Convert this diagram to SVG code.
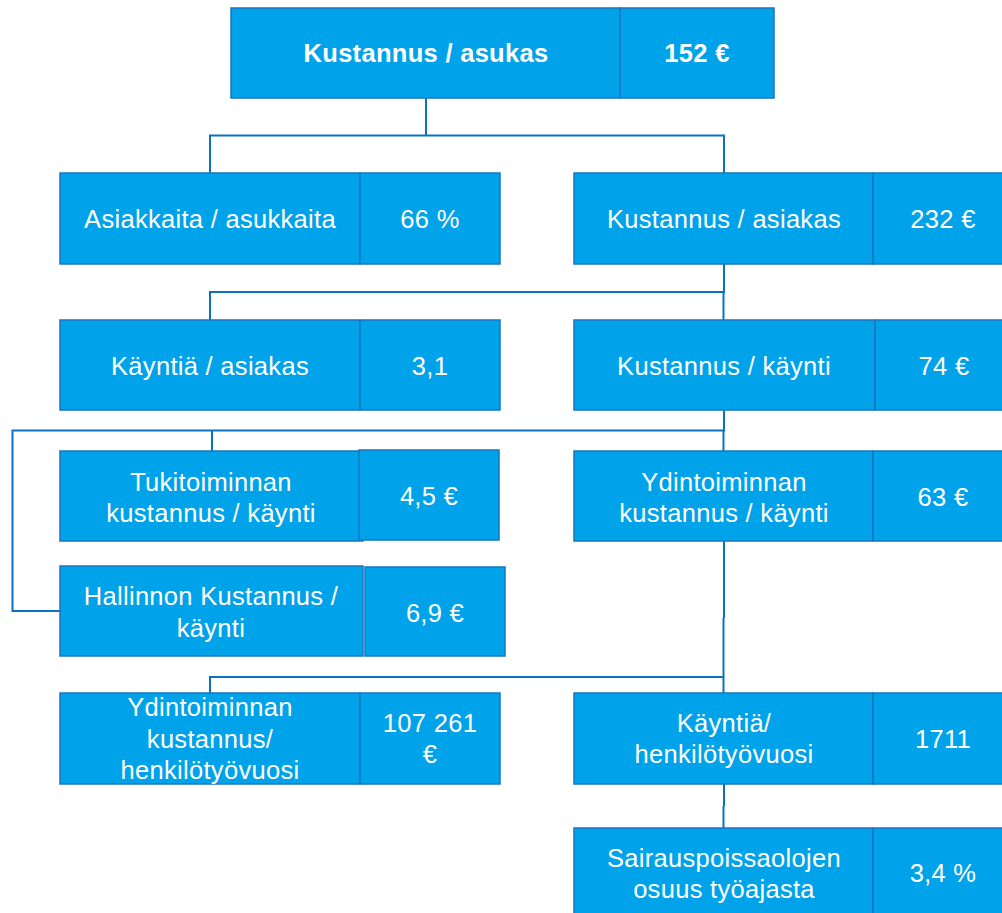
<svg xmlns="http://www.w3.org/2000/svg" width="1002" height="913" viewBox="0 0 1002 913">
<style>
.b{fill:#00A3E9;stroke:#1677C0;stroke-width:1.5}
.t{fill:#fff;font-family:"Liberation Sans",Arial,sans-serif;font-size:25.5px;letter-spacing:0.3px;text-anchor:middle}
.bold{font-weight:bold}
.c{fill:none;stroke:#0C72C0;stroke-width:2}
</style>
<rect width="1002" height="913" fill="#fff"/>
<g id="connectors">
<path class="c" d="M426 98V135.5M210 173V135.5H724V173"/>
<path class="c" d="M724 264V292H210V320M723.5 292V320"/>
<path class="c" d="M724 410V430.5H12.5V611H60M212 430.5V451M723.5 430.5V451"/>
<path class="c" d="M724 541V618M723.5 618V677H210V693M723.5 677V693"/>
<path class="c" d="M724 784V806M723.5 806V828"/>
</g>
<g id="n-kustannus-asukas">
<rect class="b" x="231" y="8" width="389" height="90"/>
<rect class="b" x="620" y="8" width="154" height="90"/>
<text class="t bold" x="426" y="62">Kustannus / asukas</text>
<text class="t bold" x="697" y="62">152 €</text>
</g>
<g id="n-asiakkaita">
<rect class="b" x="60" y="173" width="300" height="91"/>
<rect class="b" x="360" y="173" width="140" height="91"/>
<text class="t" x="210" y="228">Asiakkaita / asukkaita</text>
<text class="t" x="430" y="228">66 %</text>
</g>
<g id="n-kustannus-asiakas">
<rect class="b" x="574" y="173" width="299" height="91"/>
<rect class="b" x="873" y="173" width="142" height="91"/>
<text class="t" x="724" y="228">Kustannus / asiakas</text>
<text class="t" x="943" y="228">232 €</text>
</g>
<g id="n-kaynti-asiakas">
<rect class="b" x="60" y="320" width="300" height="90"/>
<rect class="b" x="360" y="320" width="140" height="90"/>
<text class="t" x="210" y="375">Käyntiä / asiakas</text>
<text class="t" x="430" y="375">3,1</text>
</g>
<g id="n-kustannus-kaynti">
<rect class="b" x="574" y="320" width="301" height="90"/>
<rect class="b" x="875" y="320" width="140" height="90"/>
<text class="t" x="724" y="375">Kustannus / käynti</text>
<text class="t" x="944" y="375">74 €</text>
</g>
<g id="n-tukitoiminnan">
<rect class="b" x="60" y="451" width="303" height="90"/>
<rect class="b" x="359" y="450" width="140" height="90"/>
<text class="t" x="211" y="491">Tukitoiminnan</text>
<text class="t" x="211" y="522">kustannus / käynti</text>
<text class="t" x="429" y="505">4,5 €</text>
</g>
<g id="n-ydintoiminnan-kaynti">
<rect class="b" x="574" y="451" width="299" height="90"/>
<rect class="b" x="873" y="451" width="142" height="90"/>
<text class="t" x="724" y="491">Ydintoiminnan</text>
<text class="t" x="724" y="522">kustannus / käynti</text>
<text class="t" x="943" y="506">63 €</text>
</g>
<g id="n-hallinnon">
<rect class="b" x="60" y="566" width="303" height="90"/>
<rect class="b" x="365" y="567" width="140" height="89"/>
<text class="t" x="211" y="605">Hallinnon Kustannus /</text>
<text class="t" x="211" y="637">käynti</text>
<text class="t" x="435" y="622">6,9 €</text>
</g>
<g id="n-ydintoiminnan-htv">
<rect class="b" x="60" y="693" width="300" height="91"/>
<rect class="b" x="360" y="693" width="140" height="91"/>
<text class="t" x="210" y="716">Ydintoiminnan</text>
<text class="t" x="210" y="748">kustannus/</text>
<text class="t" x="210" y="779">henkilötyövuosi</text>
<text class="t" x="430" y="732">107 261</text>
<text class="t" x="430" y="763">€</text>
</g>
<g id="n-kaynti-htv">
<rect class="b" x="574" y="693" width="299" height="91"/>
<rect class="b" x="873" y="693" width="142" height="91"/>
<text class="t" x="724" y="732">Käyntiä/</text>
<text class="t" x="724" y="763">henkilötyövuosi</text>
<text class="t" x="943" y="748">1711</text>
</g>
<g id="n-sairauspoissaolot">
<rect class="b" x="574" y="828" width="299" height="91"/>
<rect class="b" x="873" y="828" width="142" height="91"/>
<text class="t" x="724" y="867">Sairauspoissaolojen</text>
<text class="t" x="724" y="898">osuus työajasta</text>
<text class="t" x="943" y="882">3,4 %</text>
</g>
</svg>
